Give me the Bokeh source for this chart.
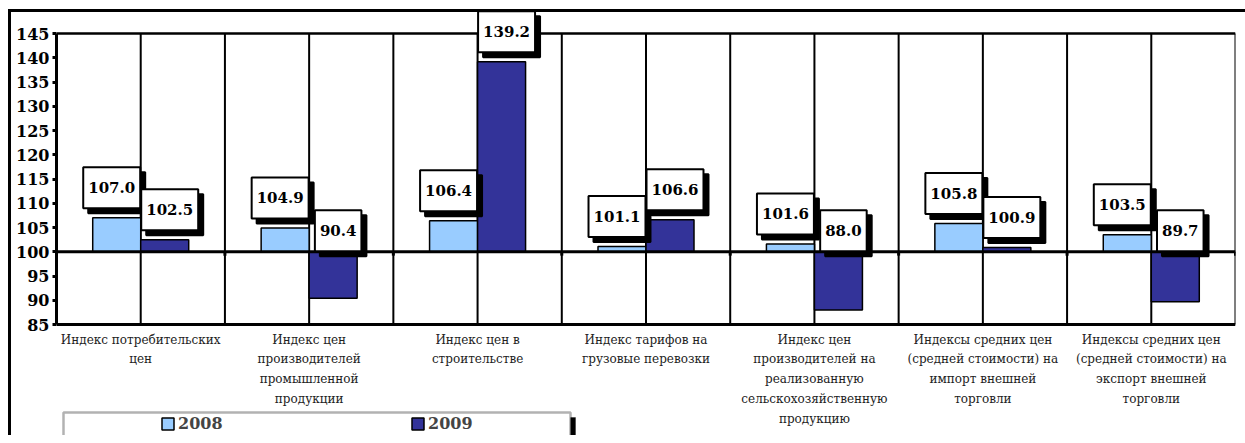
from bokeh.plotting import figure
from bokeh.models import (Range1d, FixedTicker, Label, BoxAnnotation, Legend, LegendItem,
                          InlineStyleSheet)
from bokeh.core.properties import value
from bokeh.embed import file_html
from bokeh.resources import INLINE

categories = [
    "Индекс потребительских\nцен",
    "Индекс цен\nпроизводителей\nпромышленной\nпродукции",
    "Индекс цен в\nстроительстве",
    "Индекс тарифов на\nгрузовые перевозки",
    "Индекс цен\nпроизводителей на\nреализованную\nсельскохозяйственную\nпродукцию",
    "Индексы средних цен\n(средней стоимости) на\nимпорт внешней\nторговли",
    "Индексы средних цен\n(средней стоимости) на\nэкспорт внешней\nторговли",
]
values_2008 = [107.0, 104.9, 106.4, 101.1, 101.6, 105.8, 103.5]
values_2009 = [102.5, 90.4, 139.2, 106.6, 88.0, 100.9, 89.7]
series_names = ["2008", "2009"]
y_ticks = [85, 90, 95, 100, 105, 110, 115, 120, 125, 130, 135, 140, 145]
baseline = 100

C2008 = "#99CCFF"
C2009 = "#333399"
n = len(categories)
BW = 0.285

# ---- layout (pixels on the canvas) ----
W, H = 1245, 435
LEFT = 56            # y axis position
PLOT_R = 1235        # right edge of the plotting box
PLOT_T = 33          # pixel of top tick
PLOT_B = 324         # pixel of bottom tick
y_lo, y_hi = y_ticks[0], y_ticks[-1]
ppu_y = (PLOT_B - PLOT_T) / (y_hi - y_lo)
x_range = Range1d(0, n)
y_range = Range1d(y_lo - (H - PLOT_B) / ppu_y, y_hi + PLOT_T / ppu_y)

p = figure(width=W, height=H, x_range=x_range, y_range=y_range,
           output_backend="svg", toolbar_location=None,
           x_axis_location=None, y_axis_location="left")
p.min_border_left = LEFT
p.min_border_right = W - PLOT_R
p.min_border_top = 0
p.min_border_bottom = 0
p.background_fill_color = "white"
p.border_fill_color = "white"
p.outline_line_color = None
p.xgrid.visible = False
p.ygrid.visible = False
# outer chart-area frame (only its top and left edges fall inside the window),
# drawn as an overlay on top of the canvas
p.stylesheets = [InlineStyleSheet(css=(
    ":host { position: relative; }"
    " :host::after { content: ''; position: absolute; left: 8px; top: 9px; right: 0;"
    " bottom: 0; border-left: 3px solid black; border-top: 3px solid black;"
    " pointer-events: none; z-index: 10; }"))]

ya = p.yaxis[0]
ya.ticker = FixedTicker(ticks=y_ticks)
ya.bounds = (y_lo, y_hi)
ya.major_label_text_font = "DejaVu Serif"
ya.major_label_text_font_style = "bold"
ya.major_label_text_font_size = "16px"
ya.major_label_text_color = "black"
ya.major_label_standoff = 3
ya.major_tick_in = 0
ya.major_tick_out = 4
ya.major_tick_line_width = 3
ya.minor_tick_line_color = None
ya.axis_line_width = 3
ya.axis_line_color = "black"

centers = [i + 0.5 for i in range(n)]

# vertical grid lines every half category
gx = [i * 0.5 for i in range(1, 2 * n + 1)]
p.segment(x0=gx, y0=[y_lo] * len(gx), x1=gx, y1=[y_hi] * len(gx),
          line_color="black", line_width=2)
# top and bottom border lines
p.segment(x0=[0, 0], y0=[y_hi, y_lo], x1=[n, n], y1=[y_hi, y_lo],
          line_color="black", line_width=[2.5, 3])

# bars
x08 = [c - BW / 2 for c in centers]
x09 = [c + BW / 2 for c in centers]
r08 = p.vbar(x=x08, width=BW, bottom=baseline, top=values_2008, fill_color=C2008,
             line_color="black", line_width=1.5)
r09 = p.vbar(x=x09, width=BW, bottom=baseline, top=values_2009, fill_color=C2009,
             line_color="black", line_width=1.5)

# baseline (category axis crossing at 100) with small ticks at boundaries
p.segment(x0=[0], y0=[baseline], x1=[n], y1=[baseline], line_color="black", line_width=3)
bounds = list(range(n + 1))
p.segment(x0=bounds, y0=[baseline] * len(bounds), x1=bounds,
          y1=[baseline - 0.8] * len(bounds), line_color="black", line_width=3)

# category labels under the plot
p.text(x=centers, y=[y_lo] * n, text=categories, y_offset=8,
       text_font=value("DejaVu Serif"), text_font_size="12px", text_color="#222222",
       text_align="center", text_baseline="top", text_line_height=1.42)

# data labels with shadow
def add_label(x, v, dx):
    y = v if v >= baseline else baseline
    off = 30 if v >= baseline else 21
    common = dict(x=x, y=y, text="%.1f" % v,
                  text_font="DejaVu Serif", text_font_style="bold", text_font_size="15px",
                  text_align="center", text_baseline="middle", padding=(5, 15),
                  border_line_width=2, text_color="black")
    p.add_layout(Label(**common, x_offset=dx + 5, y_offset=off - 5,
                       background_fill_color="black", border_line_color="black"))
    p.add_layout(Label(**common, x_offset=dx, y_offset=off,
                       background_fill_color="white", border_line_color="black"))

for i in range(n):
    add_label(x08[i], values_2008[i], -5)
    add_label(x09[i], values_2009[i], 5)

# legend box with shadow
def cbox(l, r, t, b, fill, lw):
    return BoxAnnotation(left=l, right=r, top=t, bottom=b,
                         left_units="canvas", right_units="canvas", top_units="canvas",
                         bottom_units="canvas", fill_color=fill, fill_alpha=1,
                         line_color="black", line_width=lw)

p.add_layout(cbox(68, 575, 417, H + 20, "black", 1))
p.add_layout(cbox(63, 570, 412, H + 20, "white", 2.5))

legend = Legend(items=[LegendItem(label=series_names[0], renderers=[r08]),
                       LegendItem(label=series_names[1], renderers=[r09])],
                orientation="horizontal", location=(160 - LEFT, 2),
                label_text_font="DejaVu Serif", label_text_font_style="bold",
                label_text_font_size="16px", glyph_width=15, glyph_height=15,
                label_standoff=3, label_width=100, spacing=132, padding=0, margin=0,
                border_line_color=None, background_fill_alpha=0)
p.add_layout(legend)

open("out.html", "w").write(file_html(p, INLINE))
